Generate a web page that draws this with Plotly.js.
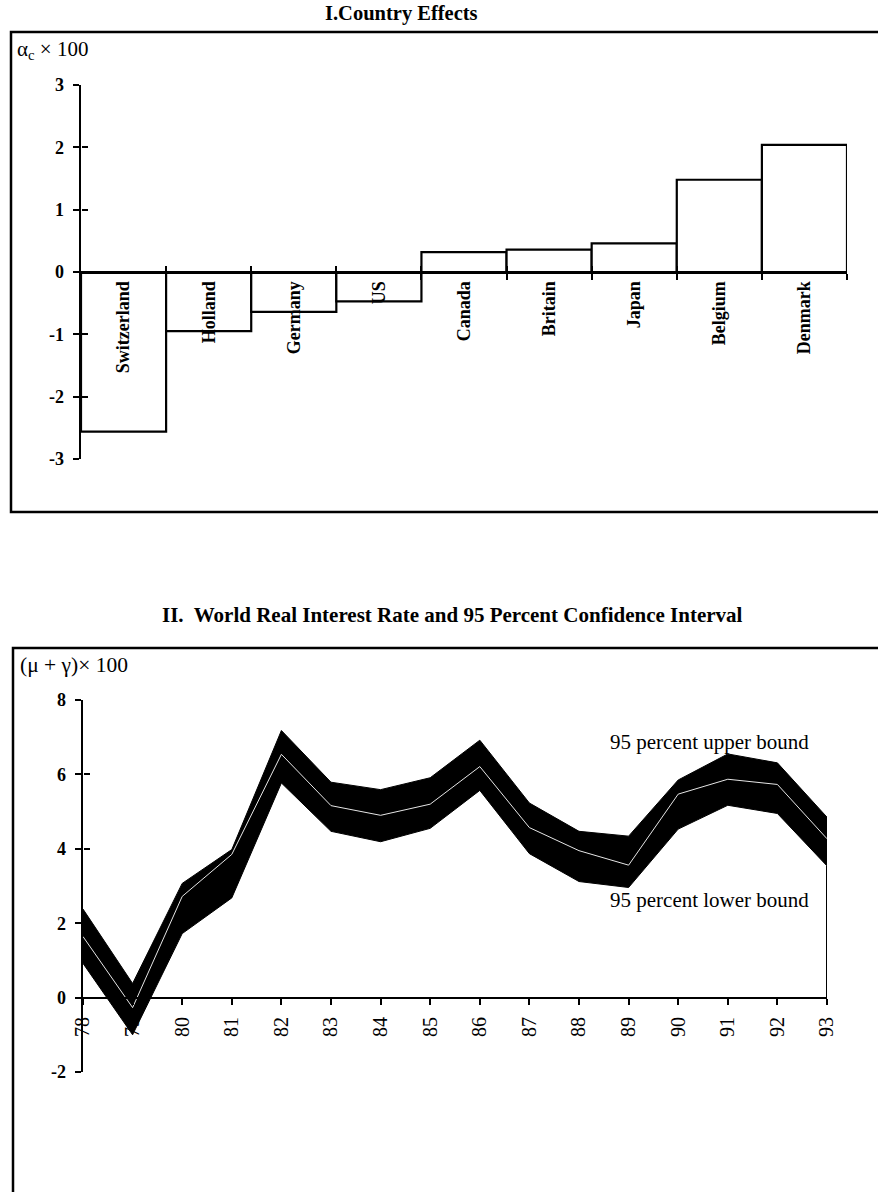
<!DOCTYPE html>
<html>
<head>
<meta charset="utf-8">
<script src="https://cdn.plot.ly/plotly-3.0.1.min.js"></script>
<style>html,body{margin:0;padding:0;background:#fff;}#chart{width:878px;height:1192px;}</style>
</head>
<body>
<div id="chart"></div>
<script>
// ---- Data ----
const countries = ["Switzerland", "Holland", "Germany", "US", "Canada", "Britain", "Japan", "Belgium", "Denmark"];
const countryEffects = [-2.56, -0.95, -0.64, -0.47, 0.32, 0.36, 0.46, 1.48, 2.04];

const years = [78, 79, 80, 81, 82, 83, 84, 85, 86, 87, 88, 89, 90, 91, 92, 93];
const worldRate = [1.64, -0.27, 2.72, 3.85, 6.54, 5.16, 4.90, 5.20, 6.21, 4.57, 3.95, 3.56, 5.47, 5.87, 5.73, 4.27];
const upperBound = [2.38, 0.38, 3.07, 3.98, 7.18, 5.79, 5.59, 5.91, 6.92, 5.23, 4.47, 4.34, 5.85, 6.55, 6.31, 4.85];
const lowerBound = [0.92, -1.00, 1.72, 2.68, 5.77, 4.47, 4.19, 4.55, 5.57, 3.87, 3.12, 2.96, 4.53, 5.17, 4.95, 3.54];

const topYTicks = [-3, -2, -1, 0, 1, 2, 3];
const botYTicks = [-2, 0, 2, 4, 6, 8];

// ---- Layout helpers (pixel -> paper) ----
const W = 878, H = 1192;
const fx = px => px / W;
const fy = py => 1 - py / H;
const FONT = "Liberation Serif, Times New Roman, serif";

// top panel geometry
const topX = [81, 847], topY = [85, 459], topRange = [-3, 3];
// bottom panel geometry
const botX = [83, 827], botY = [700, 1072], botRange = [-2, 8];

function zeroPos(pxY, range) {
  const py = pxY[0] + (range[1] - 0) / (range[1] - range[0]) * (pxY[1] - pxY[0]);
  return fy(py);
}
const topZero = zeroPos(topY, topRange);
const botZero = zeroPos(botY, botRange);

const boundaries = [];
for (let i = 0; i <= countries.length; i++) boundaries.push(i - 0.5);

const traces = [
  {
    type: "bar", x: countries, y: countryEffects, xaxis: "x", yaxis: "y",
    width: 1,
    marker: { color: "#ffffff", line: { color: "#000000", width: 2.2 } },
    hoverinfo: "x+y", showlegend: false
  },
  { type: "scatter", mode: "lines", x: [], y: [], xaxis: "x3", yaxis: "y3", showlegend: false, hoverinfo: "skip" },
  {
    type: "scatter", mode: "lines", x: years, y: upperBound, xaxis: "x2", yaxis: "y2",
    line: { color: "#000", width: 1 }, showlegend: false
  },
  {
    type: "scatter", mode: "lines", x: years, y: lowerBound, xaxis: "x2", yaxis: "y2",
    fill: "tonexty", fillcolor: "#000", line: { color: "#000", width: 1 }, showlegend: false
  },
  {
    type: "scatter", mode: "lines", x: years, y: worldRate, xaxis: "x2", yaxis: "y2",
    line: { color: "#e6e6e6", width: 1 }, showlegend: false
  },
  {
    type: "scatter", mode: "lines",
    x: [years[years.length - 1], years[years.length - 1]],
    y: [lowerBound[lowerBound.length - 1], 0],
    xaxis: "x2", yaxis: "y2", line: { color: "#000", width: 2 }, showlegend: false, hoverinfo: "skip"
  },
  { type: "scatter", mode: "lines", x: [], y: [], xaxis: "x2", yaxis: "y4", showlegend: false, hoverinfo: "skip" }
];

const tickFont = { family: FONT, size: 18, color: "#000", weight: "bold" };

const layout = {
  width: W, height: H,
  margin: { l: 0, r: 0, t: 0, b: 0, pad: 0 },
  paper_bgcolor: "#fff", plot_bgcolor: "rgba(0,0,0,0)",
  bargap: 0,
  showlegend: false,
  font: { family: FONT, color: "#000" },
  // ---- top panel ----
  xaxis: {
    domain: [fx(topX[0]), fx(topX[1])],
    type: "category", range: [-0.5, countries.length - 0.5],
    anchor: "free", position: topZero,
    showline: true, linecolor: "#000", linewidth: 3,
    ticks: "outside", tickson: "boundaries", ticklen: 6, tickwidth: 2, tickcolor: "#000",
    tickangle: -90, tickfont: { family: FONT, size: 18, color: "#000", weight: "bold" },
    showgrid: false, zeroline: false, fixedrange: true
  },
  yaxis: {
    domain: [fy(topY[1]), fy(topY[0])],
    range: topRange, anchor: "x",
    tickvals: topYTicks, ticktext: topYTicks.map(String),
    showline: true, linecolor: "#000", linewidth: 2.5,
    ticks: "outside", ticklen: 6, tickwidth: 2, tickcolor: "#000",
    tickfont: tickFont, ticklabelstandoff: 5,
    showgrid: false, zeroline: false, fixedrange: true
  },
  xaxis3: {
    overlaying: "x", anchor: "free", position: topZero,
    range: [-0.5, countries.length - 0.5],
    tickvals: boundaries, showticklabels: false,
    ticks: "inside", ticklen: 6, tickwidth: 2, tickcolor: "#000",
    showline: false, showgrid: false, zeroline: false, fixedrange: true
  },
  yaxis3: {
    overlaying: "y", anchor: "free", position: fx(topX[0]), side: "left",
    range: topRange, tickvals: topYTicks, showticklabels: false,
    ticks: "inside", ticklen: 6, tickwidth: 2, tickcolor: "#000",
    showline: false, showgrid: false, zeroline: false, fixedrange: true
  },
  // ---- bottom panel ----
  xaxis2: {
    domain: [fx(botX[0]), fx(botX[1])],
    range: [years[0], years[years.length - 1]],
    anchor: "free", position: botZero,
    tickvals: years, ticktext: years.map(String),
    showline: true, linecolor: "#000", linewidth: 2.5,
    ticks: "outside", ticklen: 6, tickwidth: 2, tickcolor: "#000",
    tickangle: -90, tickfont: { family: FONT, size: 20, color: "#000" }, ticklabelstandoff: 4,
    showgrid: false, zeroline: false, fixedrange: true
  },
  yaxis2: {
    domain: [fy(botY[1]), fy(botY[0])],
    range: botRange, anchor: "x2",
    tickvals: botYTicks, ticktext: botYTicks.map(String),
    showline: true, linecolor: "#000", linewidth: 2.5,
    ticks: "outside", ticklen: 6, tickwidth: 2, tickcolor: "#000",
    tickfont: tickFont, ticklabelstandoff: 5,
    showgrid: false, zeroline: false, fixedrange: true
  },
  yaxis4: {
    overlaying: "y2", anchor: "free", position: fx(botX[0]), side: "left",
    range: botRange, tickvals: botYTicks, showticklabels: false,
    ticks: "inside", ticklen: 6, tickwidth: 2, tickcolor: "#000",
    showline: false, showgrid: false, zeroline: false, fixedrange: true
  },
  shapes: [
    { type: "rect", xref: "paper", yref: "paper", x0: fx(11), x1: 1.02, y0: fy(512), y1: fy(32),
      line: { color: "#000", width: 2.5 }, fillcolor: "rgba(0,0,0,0)", layer: "below" },
    { type: "rect", xref: "paper", yref: "paper", x0: fx(13), x1: 1.02, y0: -0.02, y1: fy(648),
      line: { color: "#000", width: 2.5 }, fillcolor: "rgba(0,0,0,0)", layer: "below" }
  ],
  annotations: [
    { text: "<b>I.Country Effects</b>", xref: "paper", yref: "paper", x: fx(401), y: fy(14),
      xanchor: "center", yanchor: "middle", showarrow: false, font: { family: FONT, size: 20.5, color: "#000" } },
    { text: "<b>II.\u00a0 World Real Interest Rate and 95 Percent Confidence Interval</b>", xref: "paper", yref: "paper",
      x: fx(452), y: fy(615), xanchor: "center", yanchor: "middle", showarrow: false,
      font: { family: FONT, size: 21, color: "#000" } },
    { text: "α<sub>c</sub> × 100", xref: "paper", yref: "paper", x: fx(15), y: fy(50),
      xanchor: "left", yanchor: "middle", showarrow: false, font: { family: FONT, size: 21, color: "#000" } },
    { text: "(μ + γ)× 100", xref: "paper", yref: "paper", x: fx(18), y: fy(665),
      xanchor: "left", yanchor: "middle", showarrow: false, font: { family: FONT, size: 21.5, color: "#000" } },
    { text: "95 percent upper bound", xref: "paper", yref: "paper", x: fx(709), y: fy(742),
      xanchor: "center", yanchor: "middle", showarrow: false, font: { family: FONT, size: 21, color: "#000" } },
    { text: "95 percent lower bound", xref: "paper", yref: "paper", x: fx(709), y: fy(900),
      xanchor: "center", yanchor: "middle", showarrow: false, font: { family: FONT, size: 21, color: "#000" } }
  ]
};

Plotly.newPlot("chart", traces, layout, { staticPlot: true, displayModeBar: false });
</script>
</body>
</html>
